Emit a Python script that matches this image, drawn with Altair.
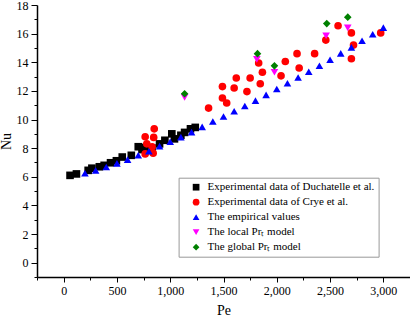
import altair as alt
import pandas as pd

# Experimental data of Duchatelle et al.
pe_duch = [60, 120, 230, 265, 335, 380, 440, 495, 550, 635, 700, 735, 765, 830, 900, 950, 1015, 1040, 1100, 1135, 1190, 1235]
nu_duch = [6.1, 6.2, 6.45, 6.6, 6.7, 6.8, 6.98, 7.12, 7.38, 7.5, 8.1, 7.9, 8.05, 8.0, 8.3, 8.55, 9.0, 8.65, 8.9, 9.1, 9.35, 9.45]

# Experimental data of Crye et al.
pe_crye = [765, 850, 845, 780, 830, 765, 840, 1360, 1490, 1530, 1490, 1600, 1620, 1720, 1750, 1845, 1865, 1830,
           2040, 2080, 2210, 2190, 2355, 2460, 2575, 2700, 2720, 2700, 2975]
nu_crye = [8.8, 9.35, 8.75, 8.3, 8.1, 7.6, 7.65, 10.8, 11.5, 11.15, 12.3, 12.2, 12.9, 11.95, 12.9, 12.5, 13.3, 13.95,
           13.05, 14.05, 13.6, 14.6, 14.6, 15.55, 16.55, 16.05, 15.2, 14.25, 16.05]

# The empirical values
pe_emp = [200, 300, 400, 500, 600, 700, 800, 900, 1000, 1100, 1200, 1300, 1400, 1500, 1600, 1700, 1800, 1900,
          2000, 2100, 2200, 2300, 2400, 2500, 2600, 2700, 2800, 2900, 3000]
nu_emp = [6.25, 6.45, 6.68, 6.94, 7.2, 7.5, 7.78, 8.14, 8.45, 8.77, 9.12, 9.49, 9.86, 10.21, 10.58, 10.95, 11.32,
          11.72, 12.13, 12.53, 12.94, 13.34, 13.76, 14.18, 14.62, 15.04, 15.5, 15.96, 16.42]

# The local Pr_t model
pe_local = [1135, 1813, 1978, 2463, 2666]
nu_local = [11.55, 14.2, 13.3, 15.85, 16.4]

# The global Pr_t model
pe_global = [1135, 1819, 1978, 2469, 2666]
nu_global = [11.8, 14.6, 13.75, 16.7, 17.15]

series_names = [
    "Experimental data of Duchatelle et al.",
    "Experimental data of Crye et al.",
    "The empirical values",
    "The local Prₜ model",
    "The global Prₜ model",
]
series_colors = ["#000000", "#ff0000", "#0000ff", "#ff00ff", "#008000"]
series_shapes = ["square", "circle", "triangle-up", "triangle-down", "diamond"]

x_ticks = list(range(-250, 3251, 250))
y_ticks = list(range(-1, 19))

rows = []
for name, pes, nus in zip(series_names,
                          [pe_duch, pe_crye, pe_emp, pe_local, pe_global],
                          [nu_duch, nu_crye, nu_emp, nu_local, nu_global]):
    for p, n in zip(pes, nus):
        rows.append({"series": name, "Pe": p, "Nu": n})
df = pd.DataFrame(rows)

x_axis = alt.Axis(
    values=x_ticks,
    labelExpr="datum.value % 500 === 0 ? datum.label : ''",
    tickSize={"condition": {"test": "datum.value % 500 === 0", "value": 5}, "value": 3},
    title="Pe",
    titlePadding=7,
    labelPadding=3,
)
y_axis = alt.Axis(
    values=y_ticks,
    labelExpr="datum.value % 2 === 0 ? datum.label : ''",
    tickSize={"condition": {"test": "datum.value % 2 === 0", "value": 6}, "value": 3},
    title="Nu",
    titlePadding=3,
    labelPadding=3,
)

chart = alt.Chart(df).mark_point(filled=True, opacity=1, size=58, strokeWidth=0).encode(
    x=alt.X("Pe:Q", scale=alt.Scale(domain=[-250, 3250], nice=False, zero=False), axis=x_axis),
    y=alt.Y("Nu:Q", scale=alt.Scale(domain=[-1, 18], nice=False, zero=False), axis=y_axis),
    color=alt.Color("series:N", scale=alt.Scale(domain=series_names, range=series_colors),
                    sort=series_names, legend=alt.Legend(title=None)),
    shape=alt.Shape("series:N", scale=alt.Scale(domain=series_names, range=series_shapes),
                    sort=series_names, legend=alt.Legend(title=None)),
).properties(
    width=373,
    height=272,
    autosize=alt.AutoSizeParams(type="none"),
    padding={"left": 37, "top": 5, "right": 0, "bottom": 40},
).configure_view(
    stroke=None
).configure_axis(
    grid=False,
    domainColor="#000000",
    domainWidth=1.5,
    tickColor="#000000",
    tickWidth=1,
    labelFont="Liberation Serif",
    labelFontSize=12,
    labelColor="#000000",
    titleFont="Liberation Serif",
    titleFontSize=14,
    titleFontWeight="normal",
    titleColor="#000000",
).configure_legend(
    orient="none",
    legendX=141.6,
    legendY=172.7,
    padding=4,
    symbolOffset=8,
    labelOffset=6,
    rowPadding=3,
    strokeColor="#999999",
    fillColor="#ffffff",
    symbolSize=45,
    symbolStrokeWidth=0,
    labelFont="Liberation Serif",
    labelFontSize=11,
    labelColor="#000000",
    labelLimit=400,
)

chart.save("out.html", embed_options={"renderer": "svg", "actions": False})
